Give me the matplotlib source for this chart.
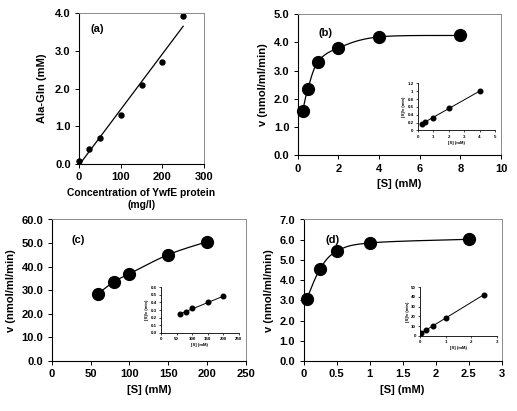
import numpy as np
import matplotlib
matplotlib.use("Agg")
import matplotlib.pyplot as plt

plt.rcParams['font.family'] = ['Liberation Sans', 'DejaVu Sans']
plt.rcParams['font.weight'] = 'bold'

# ---------------- data ----------------
a_protein = [0, 25, 50, 100, 150, 200, 250]
a_alagln = [0.09, 0.40, 0.69, 1.30, 2.10, 2.72, 3.93]

b_s = [0.25, 0.5, 1, 2, 4, 8]
b_v = [1.58, 2.35, 3.31, 3.80, 4.19, 4.24]
b_inset_s = [0.25, 0.5, 1, 2, 4]
b_inset_sv = [0.17, 0.22, 0.32, 0.57, 1.0]

c_s = [60, 80, 100, 150, 200]
c_v = [28.6, 33.6, 37.0, 45.1, 50.6]
c_inset_sv = [0.25, 0.27, 0.32, 0.40, 0.48]

d_s = [0.05, 0.25, 0.5, 1.0, 2.5]
d_v = [3.07, 4.55, 5.42, 5.84, 6.02]
d_inset_sv = [3, 6, 10, 18, 42.5]

W, H = 517, 411
fig = plt.figure(figsize=(W / 100, H / 100), dpi=100)


def box(l, r, t, b):
    return [l / W, 1 - b / H, (r - l) / W, (b - t) / H]


def style_main(ax):
    for s in ['left', 'bottom']:
        ax.spines[s].set_color('black')
        ax.spines[s].set_linewidth(0.8)
    for s in ['top', 'right']:
        ax.spines[s].set_color('#8a8a8a')
        ax.spines[s].set_linewidth(0.7)
    ax.tick_params(direction='out', length=3, width=0.7, labelsize=8, pad=3,
                   top=False, right=False)
    for lab in ax.get_xticklabels() + ax.get_yticklabels():
        lab.set_fontweight('bold')


def style_inset(ax):
    ax.spines['top'].set_visible(False)
    ax.spines['right'].set_visible(False)
    for s in ['left', 'bottom']:
        ax.spines[s].set_linewidth(0.6)
    ax.tick_params(direction='out', length=1.5, width=0.5, labelsize=3.2, pad=1.5)
    ax.patch.set_alpha(0)


def smooth(ax, x, y, n=40):
    # Catmull-Rom style smoothing in normalized axes space
    x = np.asarray(x, float)
    y = np.asarray(y, float)
    x0, x1 = ax.get_xlim()
    y0, y1 = ax.get_ylim()
    pos = ax.get_position()
    sx = pos.width * W / (x1 - x0)
    sy = pos.height * H / (y1 - y0)
    P = np.column_stack([(x - x0) * sx, (y - y0) * sy])
    Pe = np.vstack([P[0], P, P[-1]])
    out = []
    t = np.linspace(0, 1, n)
    for i in range(len(P) - 1):
        p0, p1, p2, p3 = Pe[i], Pe[i + 1], Pe[i + 2], Pe[i + 3]
        c1 = p1 + (p2 - p0) / 6
        c2 = p2 - (p3 - p1) / 6
        seg = ((1 - t) ** 3)[:, None] * p1 + (3 * (1 - t) ** 2 * t)[:, None] * c1 \
            + (3 * (1 - t) * t ** 2)[:, None] * c2 + (t ** 3)[:, None] * p2
        out.append(seg)
    Q = np.vstack(out)
    return Q[:, 0] / sx + x0, Q[:, 1] / sy + y0


def fitline(x, y, xs=None):
    m, b = np.polyfit(x, y, 1)
    if xs is None:
        xs = np.array([min(x), max(x)])
    return xs, m * xs + b


# ---------------- (a) ----------------
axa = fig.add_axes(box(79, 204, 13.5, 164))
axa.set_xlim(0, 300)
axa.set_ylim(0, 4)
m, b = np.polyfit(a_protein, a_alagln, 1)
xl = np.array([-b / m, max(a_protein)])
axa.plot(xl, m * xl + b, color='black', lw=0.9)
axa.plot(a_protein, a_alagln, 'o', color='black', ms=3.6, clip_on=False)
axa.set_xticks([0, 100, 200, 300])
axa.set_yticks(np.arange(0, 4.01, 1.0))
axa.set_yticklabels([f"{v:.1f}" for v in np.arange(0, 4.01, 1.0)])
style_main(axa)
axa.set_ylabel('Ala-Gln (mM)', fontsize=8, fontweight='bold', labelpad=6)
axa.set_xlabel('Concentration of YwfE protein\n(mg/l)', fontsize=7.4,
               fontweight='bold', labelpad=4, linespacing=1.3)
axa.text(0.09, 0.93, '(a)', transform=axa.transAxes, fontsize=8,
         fontweight='bold', va='top')

# ---------------- (b) ----------------
axb = fig.add_axes(box(297.7, 501, 14, 155.3))
axb.set_xlim(0, 10)
axb.set_ylim(0, 5)
xs, ys = smooth(axb, b_s, b_v)
axb.plot(xs, ys, color='black', lw=0.9)
axb.plot(b_s, b_v, 'o', color='black', ms=8.5, clip_on=False)
axb.set_xticks(np.arange(0, 11, 2))
axb.set_yticks(np.arange(0, 5.01, 1.0))
axb.set_yticklabels([f"{v:.1f}" for v in np.arange(0, 5.01, 1.0)])
style_main(axb)
axb.set_ylabel('v (nmol/ml/min)', fontsize=8, fontweight='bold', labelpad=4)
axb.set_xlabel('[S] (mM)', fontsize=8, fontweight='bold', labelpad=4)
axb.text(0.1, 0.90, '(b)', transform=axb.transAxes, fontsize=8,
         fontweight='bold', va='top')

ib = fig.add_axes(box(417.7, 495, 83.5, 130.4))
ib.set_xlim(0, 5)
ib.set_ylim(0, 1.2)
lx, ly = fitline(b_inset_s, b_inset_sv)
ib.plot(lx, ly, color='black', lw=0.7)
ib.plot(b_inset_s, b_inset_sv, 'o', color='black', ms=3.3)
ib.set_xticks(range(0, 6))
ib.set_yticks(np.arange(0, 1.21, 0.2))
ib.set_yticklabels(['0', '0.2', '0.4', '0.6', '0.8', '1', '1.2'])
style_inset(ib)
ib.set_ylabel('[S]/v (min)', fontsize=3, fontweight='bold', labelpad=1)
ib.set_xlabel('[S] (mM)', fontsize=3, fontweight='bold', labelpad=1.5)

# ---------------- (c) ----------------
axc = fig.add_axes(box(51.7, 246, 219.5, 361))
axc.set_xlim(0, 250)
axc.set_ylim(0, 60)
xs, ys = smooth(axc, c_s, c_v)
axc.plot(xs, ys, color='black', lw=0.9)
axc.plot(c_s, c_v, 'o', color='black', ms=8.5, clip_on=False)
axc.set_xticks(np.arange(0, 251, 50))
axc.set_yticks(np.arange(0, 60.1, 10))
axc.set_yticklabels([f"{v:.1f}" for v in np.arange(0, 60.1, 10)])
style_main(axc)
axc.set_ylabel('v (nmol/ml/min)', fontsize=8, fontweight='bold', labelpad=4)
axc.set_xlabel('[S] (mM)', fontsize=8, fontweight='bold', labelpad=4)
axc.text(0.1, 0.89, '(c)', transform=axc.transAxes, fontsize=8,
         fontweight='bold', va='top')

ic = fig.add_axes(box(161, 238.7, 287.3, 332.7))
ic.set_xlim(0, 250)
ic.set_ylim(0, 0.6)
lx, ly = fitline(c_s, c_inset_sv)
ic.plot(lx, ly, color='black', lw=0.7)
ic.plot(c_s, c_inset_sv, 'o', color='black', ms=3.3)
ic.set_xticks(np.arange(0, 251, 50))
ic.set_yticks(np.arange(0, 0.61, 0.1))
ic.set_yticklabels([f"{v:.1f}" for v in np.arange(0, 0.61, 0.1)])
style_inset(ic)
ic.set_ylabel('[S]/v (min)', fontsize=3, fontweight='bold', labelpad=1)
ic.set_xlabel('[S] (mM)', fontsize=3, fontweight='bold', labelpad=1.5)

# ---------------- (d) ----------------
axd = fig.add_axes(box(303.5, 501.7, 219.5, 361))
axd.set_xlim(0, 3)
axd.set_ylim(0, 7)
xs, ys = smooth(axd, d_s, d_v)
axd.plot(xs, ys, color='black', lw=0.9)
axd.plot(d_s, d_v, 'o', color='black', ms=8.5, clip_on=False)
axd.set_xticks([0, 0.5, 1, 1.5, 2, 2.5, 3])
axd.set_xticklabels(['0', '0.5', '1', '1.5', '2', '2.5', '3'])
axd.set_yticks(np.arange(0, 7.01, 1.0))
axd.set_yticklabels([f"{v:.1f}" for v in np.arange(0, 7.01, 1.0)])
style_main(axd)
axd.set_ylabel('v (nmol/ml/min)', fontsize=8, fontweight='bold', labelpad=4)
axd.set_xlabel('[S] (mM)', fontsize=8, fontweight='bold', labelpad=4)
axd.text(0.11, 0.89, '(d)', transform=axd.transAxes, fontsize=8,
         fontweight='bold', va='top')

idd = fig.add_axes(box(420, 496.7, 287.3, 335.7))
idd.set_xlim(0, 3)
idd.set_ylim(0, 50)
lx, ly = fitline(d_s, d_inset_sv)
idd.plot(lx, ly, color='black', lw=0.7)
idd.plot(d_s, d_inset_sv, 'o', color='black', ms=3.3)
idd.set_xticks(range(0, 4))
idd.set_yticks(np.arange(0, 51, 10))
style_inset(idd)
idd.set_ylabel('[S]/v (min)', fontsize=3, fontweight='bold', labelpad=1)
idd.set_xlabel('[S] (mM)', fontsize=3, fontweight='bold', labelpad=1.5)

fig.savefig('out.png', dpi=100)
